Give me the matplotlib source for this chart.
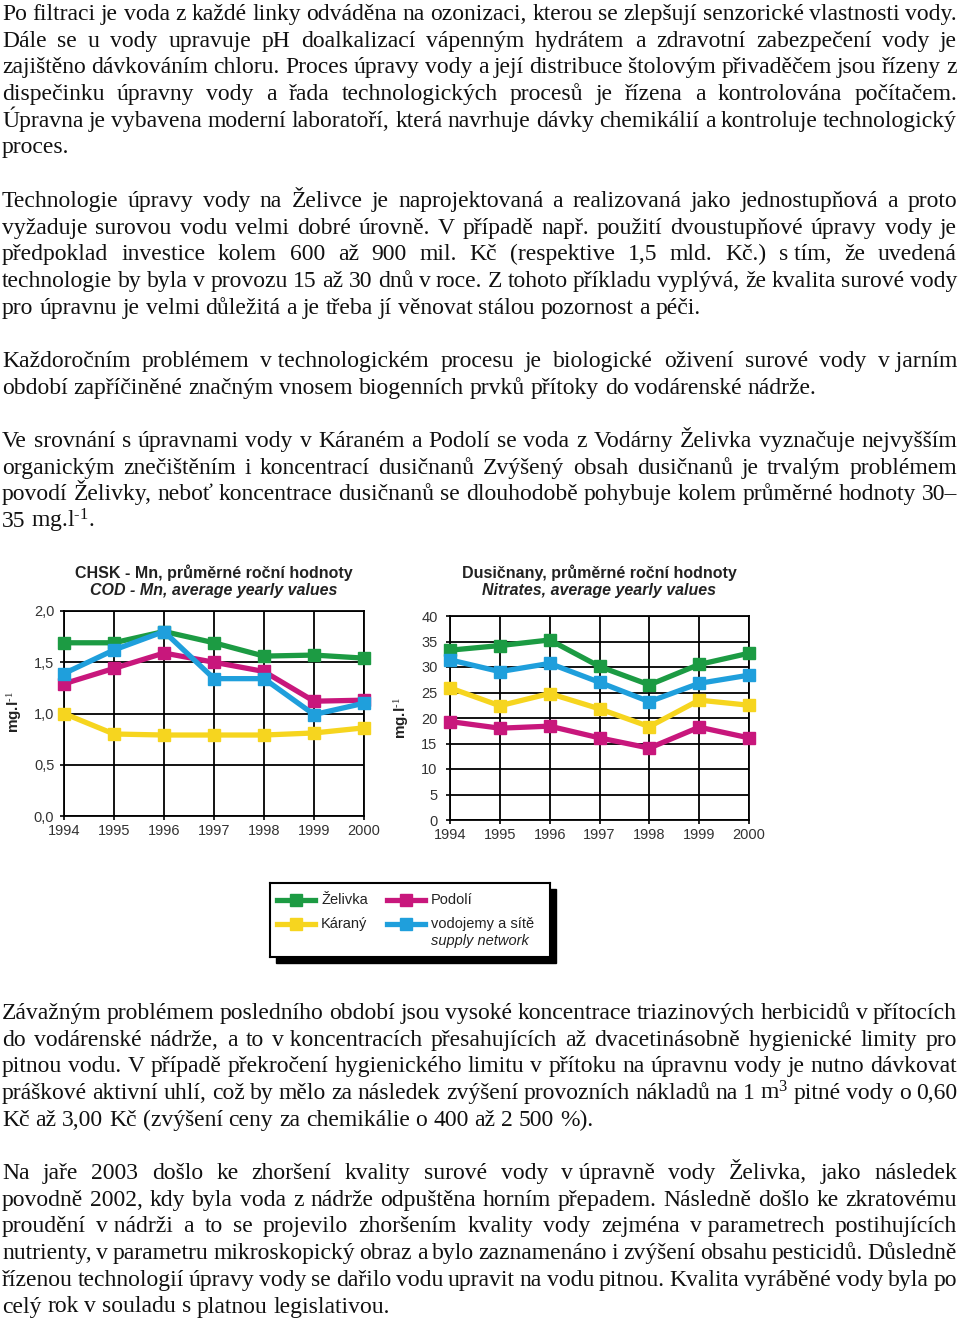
#!/usr/bin/env python3

import matplotlib
matplotlib.use("Agg")
import matplotlib.pyplot as plt
from matplotlib.patches import Rectangle

# --- chart data ---
years = [1994, 1995, 1996, 1997, 1998, 1999, 2000]
series_names = ["Želivka", "Podolí", "Káraný", "vodojemy a sítě"]
series_note = "supply network"
series_colors = ["#1c9b43", "#c8177c", "#f6d51f", "#1f9fdc"]

cod_zelivka = [1.69, 1.69, 1.80, 1.69, 1.56, 1.57, 1.54]
cod_podoli = [1.29, 1.44, 1.59, 1.50, 1.41, 1.12, 1.13]
cod_karany = [1.00, 0.80, 0.79, 0.79, 0.79, 0.81, 0.86]
cod_network = [1.39, 1.62, 1.80, 1.34, 1.34, 0.99, 1.10]

no3_zelivka = [33.3, 34.2, 35.3, 30.1, 26.5, 30.5, 32.7]
no3_podoli = [19.3, 18.0, 18.4, 16.1, 14.1, 18.2, 16.1]
no3_karany = [25.9, 22.4, 24.8, 21.8, 18.3, 23.5, 22.5]
no3_network = [31.4, 29.1, 30.7, 27.0, 23.2, 26.8, 28.4]

cod_ticks = [0.0, 0.5, 1.0, 1.5, 2.0]
cod_tick_labels = ["0,0", "0,5", "1,0", "1,5", "2,0"]
no3_ticks = [0, 5, 10, 15, 20, 25, 30, 35, 40]
no3_tick_labels = ["0", "5", "10", "15", "20", "25", "30", "35", "40"]

cod_title = ["CHSK - Mn, průměrné roční hodnoty", "COD - Mn, average yearly values"]
no3_title = ["Dusičnany, průměrné roční hodnoty", "Nitrates, average yearly values"]
unit_label = "mg.l$^{\\text{-1}}$"

# --- page text, one entry per printed line ---
NB = "\u00a0"
par1 = [
    "Po filtraci je voda z každé linky odváděna na ozonizaci, kterou se zlepšují senzorické vlastnosti vody.",
    "Dále se u vody upravuje pH doalkalizací vápenným hydrátem a zdravotní zabezpečení vody je",
    "zajištěno dávkováním chloru. Proces úpravy vody a její distribuce štolovým přivaděčem jsou řízeny z",
    "dispečinku úpravny vody a řada technologických procesů je řízena a kontrolována počítačem.",
    "Úpravna je vybavena moderní laboratoří, která navrhuje dávky chemikálií a kontroluje technologický",
    "proces.",
]
par2 = [
    "Technologie úpravy vody na Želivce je naprojektovaná a realizovaná jako jednostupňová a proto",
    "vyžaduje surovou vodu velmi dobré úrovně. V případě např. použití dvoustupňové úpravy vody je",
    "předpoklad investice kolem 600 až 900 mil. Kč (respektive 1,5 mld. Kč.) s" + NB + "tím, že uvedená",
    "technologie by byla v provozu 15 až 30 dnů v roce. Z tohoto příkladu vyplývá, že kvalita surové vody",
    "pro úpravnu je velmi důležitá a je třeba jí věnovat stálou pozornost a péči.",
]
par3 = [
    "Každoročním problémem v" + NB + "technologickém procesu je biologické oživení surové vody v" + NB + "jarním",
    "období zapříčiněné značným vnosem biogenních prvků přítoky do vodárenské nádrže.",
]
par4 = [
    "Ve srovnání s úpravnami vody v Káraném a Podolí se voda z Vodárny Želivka vyznačuje nejvyšším",
    "organickým znečištěním i koncentrací dusičnanů Zvýšený obsah dusičnanů je trvalým problémem",
    "povodí Želivky, neboť koncentrace dusičnanů se dlouhodobě pohybuje kolem průměrné hodnoty 30–",
    "35 mg.l$^{\\text{-1}}$.",
]
par5 = [
    "Závažným problémem posledního období jsou vysoké koncentrace triazinových herbicidů v přítocích",
    "do vodárenské nádrže, a to v" + NB + "koncentracích přesahujících až dvacetinásobně hygienické limity pro",
    "pitnou vodu. V případě překročení hygienického limitu v přítoku na úpravnu vody je nutno dávkovat",
    "práškové aktivní uhlí, což by mělo za následek zvýšení provozních nákladů na 1 m$^{3}$ pitné vody o 0,60",
    "Kč až 3,00 Kč (zvýšení ceny za chemikálie o 400 až 2 500 %).",
]
par6 = [
    "Na jaře 2003 došlo ke zhoršení kvality surové vody v" + NB + "úpravně vody Želivka, jako následek",
    "povodně 2002, kdy byla voda z nádrže odpuštěna horním přepadem. Následně došlo ke zkratovému",
    "proudění v" + NB + "nádrži a to se projevilo zhoršením kvality vody zejména v" + NB + "parametrech postihujících",
    "nutrienty, v parametru mikroskopický obraz a bylo zaznamenáno i zvýšení obsahu pesticidů. Důsledně",
    "řízenou technologií úpravy vody se dařilo vodu upravit na vodu pitnou. Kvalita vyráběné vody byla po",
    "celý rok v souladu s platnou legislativou.",
]

W, H = 960, 1321
plt.rcParams["mathtext.fontset"] = "custom"
plt.rcParams["mathtext.rm"] = "Liberation Serif"
plt.rcParams["mathtext.it"] = "Liberation Serif:italic"
plt.rcParams["mathtext.bf"] = "Liberation Sans:bold"

fig = plt.figure(figsize=(W / 100, H / 100), dpi=100)
fig.patch.set_facecolor("white")
renderer = fig.canvas.get_renderer()

body = dict(family="Liberation Serif", size=17, color="#111111")


def fx(x):
    return x / W


def fy(y):
    return 1 - y / H


def text_width(s, **kw):
    t = fig.text(0, 0, s, **kw)
    w = t.get_window_extent(renderer).width
    t.remove()
    return w


space_w = text_width("x x", **body) - 2 * text_width("x", **body)


def draw_paragraph(lines, baseline, spacing=26.7, left=2, right=957):
    # justified lines, the last one left aligned
    for i, line in enumerate(lines):
        words = line.split(" ")
        widths = [text_width(w, **body) for w in words]
        if i == len(lines) - 1 or len(words) == 1:
            gap = space_w
        else:
            gap = (right - left - sum(widths)) / (len(words) - 1)
        x = left
        y = baseline + i * spacing
        for word, wd in zip(words, widths):
            fig.text(fx(x), fy(y), word, ha="left", va="baseline", **body)
            x += wd + gap


draw_paragraph(par1, 20)
draw_paragraph(par2, 207)
draw_paragraph(par3, 367)
draw_paragraph(par4, 447)
draw_paragraph(par5, 1019)
draw_paragraph(par6, 1179)

# --- the two line charts ---
sans = "Liberation Sans"
draw_order = [2, 1, 0, 3]


def draw_chart(box, series, ticks, tick_labels, ylim, title, ypad):
    l, t, r, b = box
    ax = fig.add_axes([fx(l), fy(b), (r - l) / W, (b - t) / H])
    for k in draw_order:
        ax.plot(years, series[k], color=series_colors[k], lw=3.8,
                marker="s", ms=9, mfc=series_colors[k], mec=series_colors[k],
                zorder=3, clip_on=False)
    ax.set_xlim(years[0], years[-1])
    ax.set_ylim(ylim)
    ax.set_xticks(years)
    ax.set_yticks(ticks)
    ax.set_yticklabels(tick_labels)
    ax.grid(True, color="black", lw=1.3)
    for sp in ax.spines.values():
        sp.set_linewidth(1.3)
    ax.tick_params(axis="both", length=3, width=1.2, labelsize=10.5,
                   labelcolor="#333333")
    ax.tick_params(axis="y", pad=ypad)
    ax.tick_params(axis="x", pad=2.5)
    for lab in ax.get_xticklabels() + ax.get_yticklabels():
        lab.set_family(sans)
    cx = (l + r) / 2
    fig.text(fx(cx), fy(573), title[0], ha="center", va="center",
             family=sans, weight="bold", size=11.5, color="#222222")
    fig.text(fx(cx), fy(591), title[1], ha="center", va="center",
             family=sans, weight="bold", style="italic", size=11.5,
             color="#222222")
    return ax


ax1 = draw_chart((64, 611, 364, 816),
                 [cod_zelivka, cod_podoli, cod_karany, cod_network],
                 cod_ticks, cod_tick_labels, (0, 2.0), cod_title, 4)
ax2 = draw_chart((450, 616, 749, 820),
                 [no3_zelivka, no3_podoli, no3_karany, no3_network],
                 no3_ticks, no3_tick_labels, (0, 40), no3_title, 6)
fig.text(fx(15), fy(712), unit_label, rotation=90, ha="center", va="center",
         family=sans, weight="bold", size=11, color="#222222")
fig.text(fx(402), fy(718), unit_label, rotation=90, ha="center", va="center",
         family=sans, weight="bold", size=11, color="#222222")

# --- legend box with a hard black shadow ---
lx, ly, lw_, lh = 270, 883, 280, 74
shadow = Rectangle((fx(lx + 6), fy(ly + lh + 6)), lw_ / W, lh / H,
                   transform=fig.transFigure, color="black", zorder=0.5)
fig.add_artist(shadow)
lax = fig.add_axes([fx(lx), fy(ly + lh), lw_ / W, lh / H])
lax.set_zorder(1)
lax.set_xlim(0, lw_)
lax.set_ylim(lh, 0)
lax.set_xticks([])
lax.set_yticks([])
for sp in lax.spines.values():
    sp.set_linewidth(1.5)

slots = [(7, 17), (117, 17), (7, 41), (117, 41)]
for k, (sx, sy) in enumerate(slots):
    lax.plot([sx, sx + 38], [sy, sy], color=series_colors[k], lw=3.8)
    lax.plot([sx + 19], [sy], marker="s", ms=9, color=series_colors[k])
    lax.text(sx + 44, sy, series_names[k], ha="left", va="center",
             family=sans, size=10.5, color="#222222")
lax.text(117 + 44, 58, series_note, ha="left", va="center",
         family=sans, style="italic", size=10.5, color="#222222")

plt.savefig("out.png", dpi=100)
